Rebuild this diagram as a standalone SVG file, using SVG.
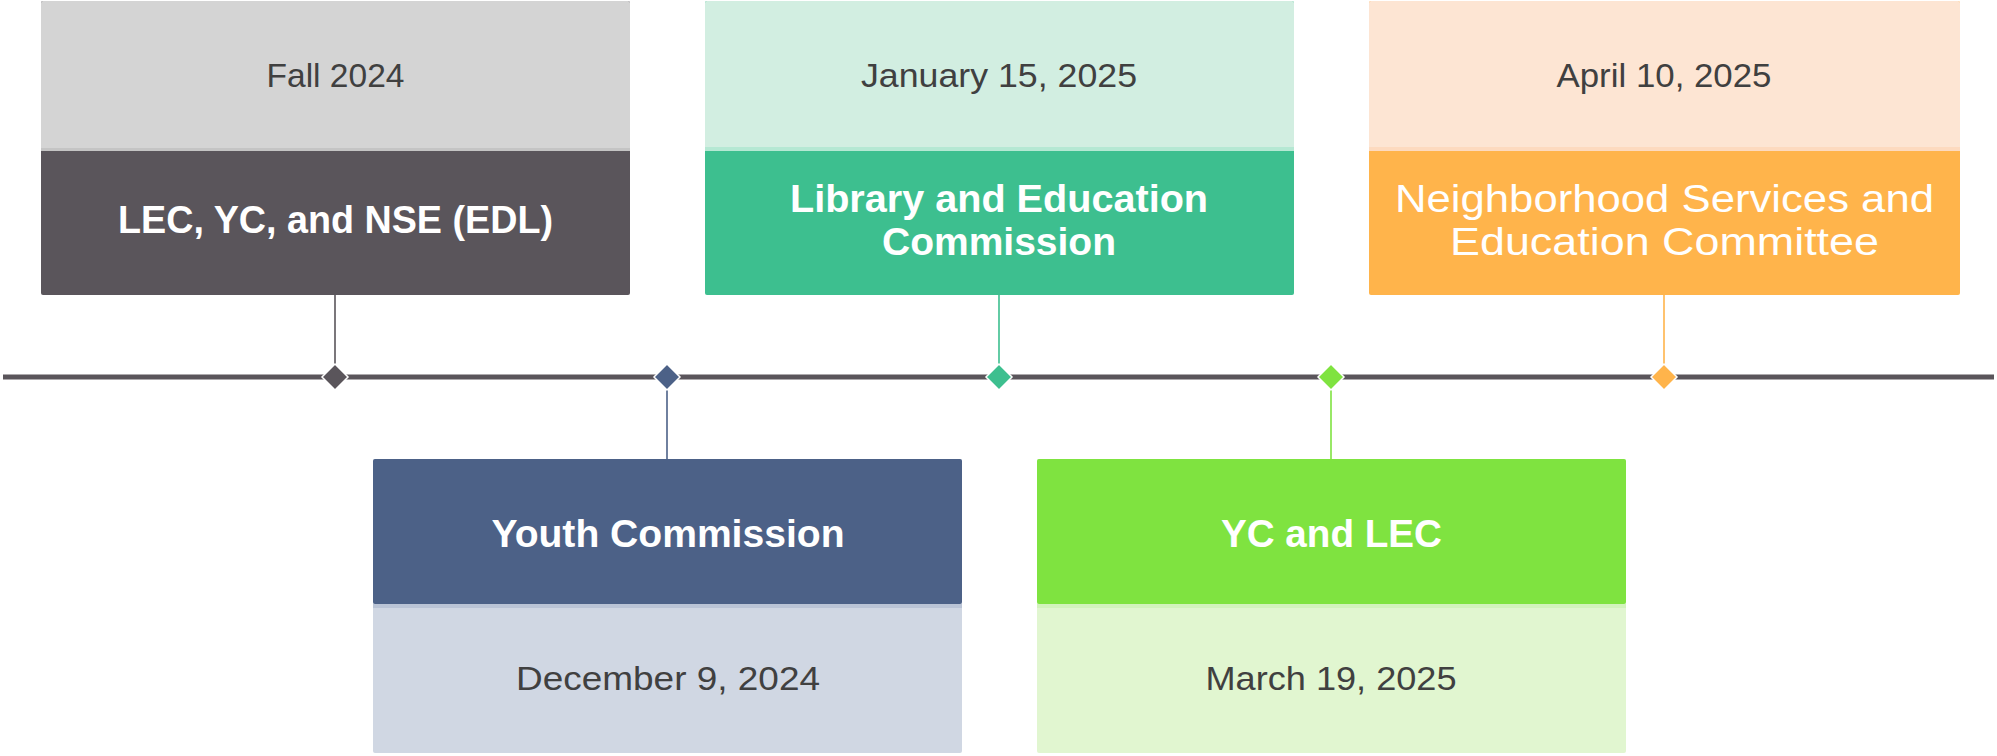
<svg xmlns="http://www.w3.org/2000/svg" width="1997" height="756" viewBox="0 0 1997 756">
<style>
.date{font-family:"Liberation Sans",Arial,sans-serif;font-size:34px;fill:#404040;text-anchor:middle}
.head{font-family:"Liberation Sans",Arial,sans-serif;font-size:38px;font-weight:bold;fill:#ffffff;text-anchor:middle}
.light{font-family:"Liberation Sans",Arial,sans-serif;font-size:38px;fill:#ffffff;text-anchor:middle}
.dia{stroke:#ffffff;stroke-width:1.5}
.conn{stroke-width:1.6;fill:none}
</style>
<rect width="1997" height="756" fill="#ffffff"/>
<g id="timeline">
<line x1="3" y1="377" x2="1994" y2="377" stroke="#5A555B" stroke-width="5"/>
</g>
<g id="connectors">
<line class="conn" x1="335" y1="295" x2="335" y2="366" stroke="#5A555B"/>
<line class="conn" x1="667" y1="389" x2="667" y2="459" stroke="#4C6187"/>
<line class="conn" x1="999" y1="295" x2="999" y2="366" stroke="#3DBF8F"/>
<line class="conn" x1="1331" y1="389" x2="1331" y2="459" stroke="#7FE340"/>
<line class="conn" x1="1664" y1="295" x2="1664" y2="366" stroke="#FFB44B"/>
</g>
<g id="markers">
<polygon class="dia" points="335,364 348,377 335,390 322,377" fill="#5A555B"/>
<polygon class="dia" points="667,364 680,377 667,390 654,377" fill="#4C6187"/>
<polygon class="dia" points="999,364 1012,377 999,390 986,377" fill="#3DBF8F"/>
<polygon class="dia" points="1331,364 1344,377 1331,390 1318,377" fill="#7FE340"/>
<polygon class="dia" points="1664,364 1677,377 1664,390 1651,377" fill="#FFB44B"/>
</g>
<g id="node-fall-2024">
<rect x="41" y="1" width="589" height="294" rx="2" fill="#5A555B"/>
<rect x="41" y="1" width="589" height="150" rx="2" fill="#D4D4D4"/>
<rect x="41" y="148" width="589" height="3" fill="#C4C4C4"/>
<text class="date" x="335.5" y="87" textLength="138" lengthAdjust="spacingAndGlyphs">Fall 2024</text>
<text class="head" x="335.5" y="233" textLength="435" lengthAdjust="spacingAndGlyphs">LEC, YC, and NSE (EDL)</text>
</g>
<g id="node-dec-2024">
<rect x="373" y="459" width="589" height="294" rx="2" fill="#D0D7E3"/>
<rect x="373" y="459" width="589" height="145" rx="2" fill="#4C6187"/>
<rect x="373" y="604" width="589" height="4" fill="#BAC4D6"/>
<text class="head" x="668" y="547" textLength="353" lengthAdjust="spacingAndGlyphs">Youth Commission</text>
<text class="date" x="668" y="690" textLength="304" lengthAdjust="spacingAndGlyphs">December 9, 2024</text>
</g>
<g id="node-jan-2025">
<rect x="705" y="1" width="589" height="294" rx="2" fill="#3DBF8F"/>
<rect x="705" y="1" width="589" height="150" rx="2" fill="#D2EEE1"/>
<rect x="705" y="147" width="589" height="4" fill="#B5E8D3"/>
<text class="date" x="999" y="87" textLength="276" lengthAdjust="spacingAndGlyphs">January 15, 2025</text>
<text class="head" x="999" y="212" textLength="418" lengthAdjust="spacingAndGlyphs">Library and Education</text>
<text class="head" x="999" y="255" textLength="234" lengthAdjust="spacingAndGlyphs">Commission</text>
</g>
<g id="node-mar-2025">
<rect x="1037" y="459" width="589" height="294" rx="2" fill="#E1F6D0"/>
<rect x="1037" y="459" width="589" height="145" rx="2" fill="#7FE340"/>
<rect x="1037" y="604" width="589" height="4" fill="#D2F3BC"/>
<text class="head" x="1331.5" y="547" textLength="221" lengthAdjust="spacingAndGlyphs">YC and LEC</text>
<text class="date" x="1331" y="690" textLength="251" lengthAdjust="spacingAndGlyphs">March 19, 2025</text>
</g>
<g id="node-apr-2025">
<rect x="1369" y="1" width="591" height="294" rx="2" fill="#FFB44B"/>
<rect x="1369" y="1" width="591" height="150" rx="2" fill="#FDE5D3"/>
<rect x="1369" y="147" width="591" height="4" fill="#FDDABF"/>
<text class="date" x="1664" y="87" textLength="215" lengthAdjust="spacingAndGlyphs">April 10, 2025</text>
<text class="light" x="1664.5" y="212" textLength="539" lengthAdjust="spacingAndGlyphs">Neighborhood Services and</text>
<text class="light" x="1664.5" y="255" textLength="429" lengthAdjust="spacingAndGlyphs">Education Committee</text>
</g>
</svg>
